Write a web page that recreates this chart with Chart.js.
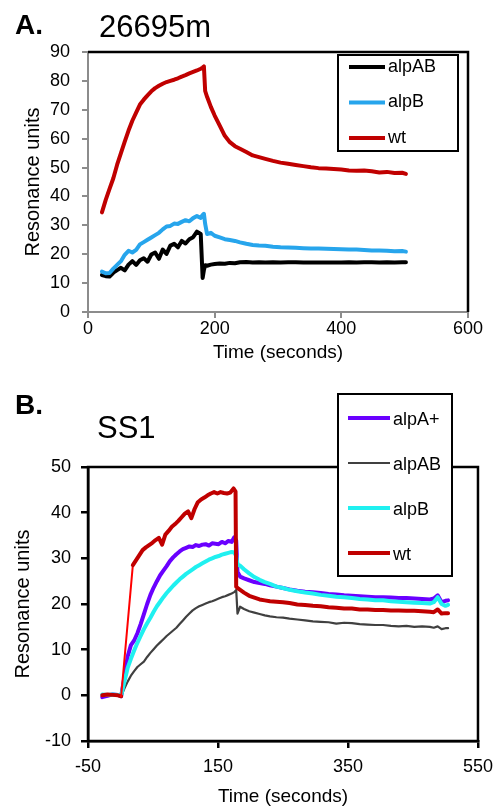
<!DOCTYPE html>
<html>
<head>
<meta charset="utf-8">
<script src="https://cdn.jsdelivr.net/npm/chart.js@4.4.1/dist/chart.umd.min.js"></script>
<style>
  html, body { margin: 0; padding: 0; background: #fff; }
  body { width: 501px; height: 808px; position: relative; overflow: hidden; font-family: "Liberation Sans", Arial, sans-serif; }
  canvas { position: absolute; left: 0; }
  .lbl { position: absolute; line-height: 1; color: #000; white-space: nowrap; z-index: 2; }
</style>
</head>
<body>
<canvas id="chartA" width="501" height="372" style="top:0"></canvas>
<canvas id="chartB" width="501" height="428" style="top:380px"></canvas>
<div class="lbl" style="left:15px; top:11px; font-size:28px; font-weight:bold;">A.</div>
<div class="lbl" style="left:99px; top:11px; font-size:31px;">26695m</div>
<div class="lbl" style="left:15px; top:391px; font-size:28px; font-weight:bold;">B.</div>
<div class="lbl" style="left:97px; top:412px; font-size:31px;">SS1</div>
<script>
// ---- panel A : 26695m ----
const timeA = [22, 28, 34, 40, 46, 52, 58, 64, 70, 76, 82, 88, 94, 100, 106, 112, 118, 124, 130, 136,
  142, 148, 154, 160, 166, 172, 178, 181, 183, 185, 188, 194, 200, 208, 216, 224, 232, 240,
  250, 260, 270, 280, 292, 304, 316, 328, 340, 352, 364, 376, 388, 400, 412, 424, 436, 448,
  460, 472, 484, 496, 502];
const alpAB_A = [12.8, 12.4, 12.3, 13.6, 14.5, 15.3, 14.4, 16.4, 17.6, 16.3, 17.9, 18.6, 17.4, 19.9,
  20.6, 18.4, 21.6, 20.1, 23, 23.6, 22.4, 24.6, 23.7, 25.2, 25.9, 27.8, 27,
  11.8, 14.5, 16.2, 16, 16.4, 16.6, 16.8, 16.7, 17, 16.9, 17.2, 17.3, 17.1, 17.2, 17.1,
  17.2, 17.1, 17.2, 17.2, 17.1, 17.1, 17.1, 17.1, 17.1, 17.1, 17.2, 17.1, 17.2, 17.2,
  17.1, 17.2, 17.1, 17.2, 17.2];
const alpB_A = [14, 13.4, 13.5, 15, 16.3, 17.6, 19.8, 21.2, 20.6, 21.5, 23.4, 24.2, 25, 25.8, 26.6,
  27.4, 28.6, 29.6, 29.8, 30.6, 30.5, 31.2, 31.8, 31.4, 32.5, 33.2, 32.6,
  33.6, 34, 30.5, 27, 27.4, 26.4, 25.8, 25.2, 24.9, 24.6, 24.1, 23.6, 23.2, 23, 22.9,
  22.6, 22.4, 22.3, 22.2, 22.1, 22, 22, 21.9, 21.8, 21.7, 21.6, 21.6, 21.5, 21.3,
  21.3, 21.2, 21, 21.1, 20.9];
const wt_A = [34.5, 38.8, 42.6, 46.3, 51, 55, 59, 62.8, 66.2, 69, 71.8, 73.5, 75, 76.4, 77.5, 78.3,
  79, 79.6, 80, 80.4, 80.9, 81.5, 82, 82.6, 83.1, 83.6, 84.2,
  84.6, 85, 76.5, 74.5, 71, 68, 64.5, 61, 58.8, 57.4, 56.5, 55.4, 54.2, 53.6, 53,
  52.3, 51.7, 51.3, 50.9, 50.5, 50.1, 49.8, 49.7, 49.5, 49.3, 49, 48.9, 49, 48.7,
  48.3, 48.5, 48.1, 48.2, 47.8];

// ---- panel B : SS1 ----
const timeB = [-28, -20, -12, -4, 1, 6, 11, 16, 21, 26, 31, 36, 41, 46, 51, 56, 61, 66, 71, 76, 81,
  86, 91, 96, 101, 106, 111, 116, 121, 126, 131, 136, 141, 146, 151, 156, 161, 166, 171,
  175, 178, 180, 184, 190, 198, 206, 214, 222, 230, 240, 250, 260, 272, 284, 296, 308,
  320, 332, 344, 356, 368, 380, 392, 404, 416, 428, 440, 452, 464, 476, 482, 488, 494,
  500, 504];
const alpAplus_B = [-0.4, -0.1, 0.2, 0.1, -0.2, 4, 8.5, 11, 12, 13.6, 15.6, 17.8, 20, 22, 23.6, 25,
  26.3, 27.3, 28.3, 29.4, 30.2, 30.9, 31.5, 32, 32.3, 32.6, 32.5, 32.9, 32.7, 33, 33.1,
  32.8, 33.3, 33.2, 33.1, 33.6, 33.3, 33.8, 33.6,
  34.6, 33.9, 27, 26, 25.6, 25.2, 24.8, 24.6, 24.4, 24.1, 23.8, 23.5, 23.2,
  22.9, 22.7, 22.6, 22.4, 22.2, 22.1, 21.9, 21.8, 21.7, 21.6, 21.5, 21.5, 21.4, 21.3,
  21.3, 21.2, 21.1, 21, 21.2, 21.9, 20.4, 20.7, 20.8];
const alpAB_B = [0, 0.1, 0, 0, -0.2, 1.5, 3, 4.3, 5.3, 6.2, 6.8, 7.4, 8.4, 9.3, 10.1, 10.9, 11.6,
  12.3, 13, 13.6, 14.2, 14.8, 15.6, 16.4, 17.2, 17.9, 18.6, 19.1, 19.5, 19.8, 20.1, 20.4,
  20.6, 20.9, 21.2, 21.5, 21.7, 22, 22.3,
  22.6, 23.1, 17.9, 19.4, 18.9, 18.4, 18.1, 17.8, 17.5, 17.3, 17.1, 17, 16.8,
  16.6, 16.4, 16.2, 16.1, 16, 15.7, 15.9, 15.8, 15.6, 15.5, 15.4, 15.4, 15.2, 15.1,
  15.2, 15, 15.1, 15, 14.8, 15.1, 14.5, 14.7, 14.7];
const alpB_B = [0.2, 0.1, 0.2, 0.1, -0.1, 3, 6, 8, 9.8, 11.5, 13, 14.5, 15.8, 17, 18.3, 19.5, 20.5,
  21.5, 22.4, 23.2, 24, 24.7, 25.4, 26, 26.6, 27.1, 27.6, 28.1, 28.5, 28.9, 29.3, 29.7,
  30, 30.3, 30.5, 30.8, 31, 31.2, 31.4,
  31.3, 30.6, 28.6, 28.4, 27.6, 26.7, 25.9, 25.3, 24.8, 24.4, 23.8, 23.5, 23.1,
  22.8, 22.5, 22.3, 22, 21.8, 21.6, 21.5, 21.3, 21.1, 21, 20.8, 20.8, 20.6, 20.5,
  20.4, 20.3, 20.2, 20.1, 20.4, 21.5, 20, 19.6, 19.8];
const timeB_wt = [-28, -20, -12, -4, 1, 19, 24, 29, 34, 39, 44, 49, 54, 59, 64, 69, 74, 79, 84, 89,
  94, 99, 104, 109, 114, 119, 124, 129, 134, 139, 144, 149, 154, 159, 164, 169, 174, 177,
  178, 182, 190, 198, 206, 214, 222, 230, 240, 250, 260, 272, 284, 296, 308, 320, 332,
  344, 356, 368, 380, 392, 404, 416, 428, 440, 452, 464, 476, 482, 488, 494, 500, 504];
const wt_B = [0, 0.2, 0.1, 0, -0.2, 28.5, 29.6, 30.7, 31.8, 32.4, 32.9, 33.4, 34, 34.5, 33, 35.2,
  36, 36.9, 37.5, 38.2, 39, 39.8, 40.3, 38.8, 40.8, 42.3, 42.9, 43.3, 43.8, 44.2, 44.5,
  44.2, 44.5, 44.3, 44.2, 44.4, 45.3, 44.6,
  23.8, 23.3, 22.5, 21.8, 21.4, 21, 20.8, 20.6, 20.5, 20.4, 20.2,
  19.9, 19.8, 19.6, 19.5, 19.3, 19.2, 19, 19, 18.8, 18.8, 18.7, 18.7, 18.6, 18.6,
  18.5, 18.5, 18.4, 18.3, 18.2, 18.8, 17.9, 18, 18];

const FONT = '"Liberation Sans", Arial, sans-serif';
Chart.defaults.font.family = FONT;
Chart.defaults.color = '#000';

const pts = (xs, ys) => xs.map((x, i) => ({ x: x, y: ys[i] }));

// frame on top/right (or all round) plus a boxed key like the spreadsheet one
const frameAndKey = {
  id: 'frameAndKey',
  afterDraw(chart, args, o) {
    const { ctx, chartArea: a } = chart;
    ctx.save();
    ctx.strokeStyle = '#000';
    ctx.lineWidth = o.frameWidth;
    ctx.beginPath();
    if (o.fullFrame) {
      ctx.rect(a.left, a.top, a.right - a.left, a.bottom - a.top);
    } else {
      ctx.moveTo(a.left, a.top);
      ctx.lineTo(a.right, a.top);
      ctx.lineTo(a.right, a.bottom);
    }
    ctx.stroke();

    const k = o.key;
    ctx.fillStyle = '#fff';
    ctx.fillRect(k.x, k.y, k.w, k.h);
    ctx.lineWidth = 2;
    ctx.strokeStyle = '#000';
    ctx.strokeRect(k.x, k.y, k.w, k.h);
    ctx.font = '18px ' + FONT;
    ctx.textBaseline = 'middle';
    chart.data.datasets.forEach((ds, i) => {
      const y = k.y + k.first + i * k.gap;
      ctx.strokeStyle = ds.borderColor;
      ctx.lineWidth = ds.borderWidth;
      ctx.beginPath();
      ctx.moveTo(k.x + k.lineX0, y);
      ctx.lineTo(k.x + k.lineX1, y);
      ctx.stroke();
      ctx.fillStyle = '#000';
      ctx.fillText(ds.label, k.x + k.textX, y + k.textDy);
    });
    ctx.restore();
  }
};

function axes(o) {
  return {
    x: {
      type: 'linear', min: o.xMin, max: o.xMax,
      ticks: { stepSize: o.xStep, padding: o.xPad, font: { size: 18 }, color: '#000' },
      grid: { drawOnChartArea: false, tickLength: o.tick, color: o.axisColor, lineWidth: o.axisWidth },
      border: { color: o.axisColor, width: o.axisWidth },
      title: { display: true, text: 'Time (seconds)', font: { size: 19 }, color: '#000', padding: { top: 0, bottom: o.xTitlePad } },
      afterFit: s => { s.height = o.xHeight; }
    },
    y: {
      min: o.yMin, max: o.yMax,
      ticks: { stepSize: 10, padding: o.yPad, font: { size: 18 }, color: '#000' },
      grid: { drawOnChartArea: false, tickLength: o.tick, color: o.axisColor, lineWidth: o.axisWidth },
      border: { color: o.axisColor, width: o.axisWidth },
      title: { display: true, text: 'Resonance units', font: { size: 20 }, color: '#000', padding: { top: o.yTitlePad, bottom: 0 } },
      afterFit: s => { s.width = 88; }
    }
  };
}

function line(label, xs, ys, color, width, order, extra) {
  return Object.assign({
    label: label, data: pts(xs, ys), borderColor: color, borderWidth: width,
    pointRadius: 0, tension: 0, borderJoinStyle: 'round', borderCapStyle: 'round', order: order
  }, extra || {});
}

new Chart(document.getElementById('chartA'), {
  type: 'line',
  data: {
    datasets: [
      line('alpAB', timeA, alpAB_A, '#000000', 4, 3),
      line('alpB', timeA, alpB_A, '#27a5ec', 4, 2),
      line('wt', timeA, wt_A, '#c00000', 4, 1)
    ]
  },
  options: {
    responsive: false, animation: false, devicePixelRatio: 1,
    layout: { padding: { top: 52, right: 33, left: 0, bottom: 0 } },
    scales: axes({ xMin: 0, xMax: 600, xStep: 200, yMin: 0, yMax: 90, tick: 6, xPad: 0, yPad: 12,
      axisColor: '#8c8c8c', axisWidth: 2, xHeight: 60, xTitlePad: 8, yTitlePad: 21 }),
    plugins: {
      legend: { display: false }, tooltip: { enabled: false },
      frameAndKey: { frameWidth: 2.5, fullFrame: false,
        key: { x: 338, y: 55, w: 120, h: 96, first: 12, gap: 35.5, lineX0: 11, lineX1: 47, textX: 50, textDy: 0 } }
    }
  },
  plugins: [frameAndKey]
});

// the injection step of wt was not sampled: draw it as a thin bright red join
const jump = ctx => ctx.p1.parsed.x - ctx.p0.parsed.x > 15;

new Chart(document.getElementById('chartB'), {
  type: 'line',
  data: {
    datasets: [
      line('alpA+', timeB, alpAplus_B, '#6a00ff', 4, 4),
      line('alpAB', timeB, alpAB_B, '#404040', 2.2, 3),
      line('alpB', timeB, alpB_B, '#20f0f0', 4, 2),
      line('wt', timeB_wt, wt_B, '#c00000', 4, 1, {
        segment: {
          borderColor: ctx => jump(ctx) ? '#ff0000' : undefined,
          borderWidth: ctx => jump(ctx) ? 2 : undefined
        }
      })
    ]
  },
  options: {
    responsive: false, animation: false, devicePixelRatio: 1,
    layout: { padding: { top: 87, right: 21, left: 0, bottom: 0 } },
    scales: axes({ xMin: -50, xMax: 550, xStep: 200, yMin: -10, yMax: 50, tick: 7, xPad: 8, yPad: 10,
      axisColor: '#000', axisWidth: 2.5, xHeight: 67, xTitlePad: 0, yTitlePad: 11 }),
    plugins: {
      legend: { display: false }, tooltip: { enabled: false },
      frameAndKey: { frameWidth: 2.5, fullFrame: true,
        key: { x: 338, y: 14, w: 114, h: 182, first: 24, gap: 45, lineX0: 10, lineX1: 52, textX: 55, textDy: 2 } }
    }
  },
  plugins: [frameAndKey]
});
</script>
</body>
</html>
